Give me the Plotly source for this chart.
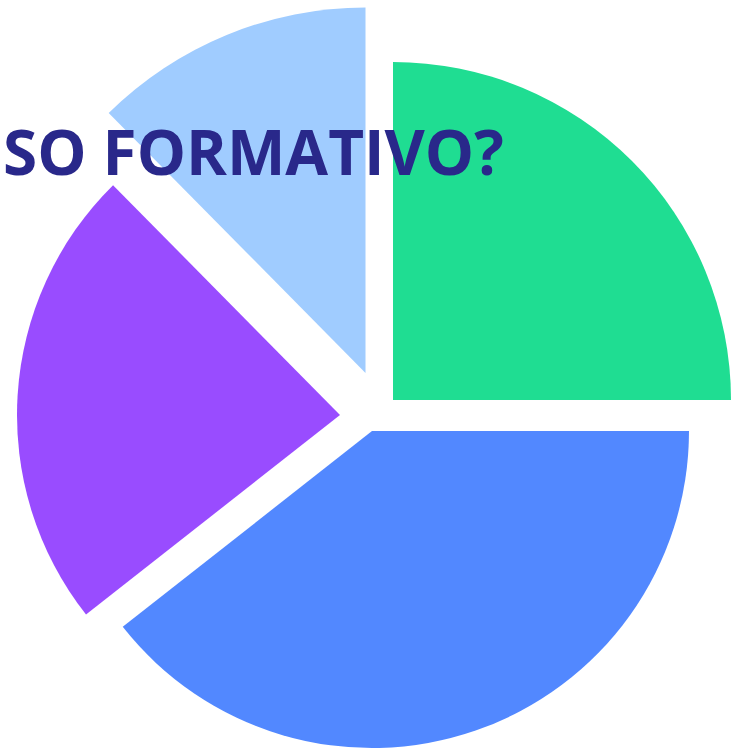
import plotly.graph_objects as go

W, H = 731, 749

labels = ["Verde", "Azul", "Morado", "Celeste"]
values = [25, 39.4, 23.2, 12.4]
colors = ["#1FDD92", "#5288FF", "#994CFF", "#A0CCFF"]
title_text = "SO FORMATIVO?"

# per-slice placement (center px, radius px) to reproduce exploded look
centers = [(393, 400), (372, 431), (340, 415), (365.5, 373)]
radii = [338, 317, 323, 365.5]

fig = go.Figure()
for i, (lab, col) in enumerate(zip(labels, colors)):
    cx, cy = centers[i]
    r = radii[i]
    x0 = max(0, (cx - r) / W)
    x1 = min(1, (cx + r) / W)
    y0 = max(0, 1 - (cy + r) / H)
    y1 = min(1, 1 - (cy - r) / H)
    slice_colors = ["rgba(0,0,0,0)"] * len(labels)
    slice_colors[i] = col
    fig.add_trace(go.Pie(
        labels=labels,
        values=values,
        sort=False,
        direction="clockwise",
        rotation=0,
        marker=dict(colors=slice_colors, line=dict(width=0)),
        textinfo="none",
        hoverinfo="skip",
        showlegend=False,
        domain=dict(x=[x0, x1], y=[y0, y1]),
    ))

fig.add_annotation(
    text=title_text,
    x=1 / W, y=1 - 151 / H,
    xref="paper", yref="paper",
    xanchor="left", yanchor="middle",
    showarrow=False,
    font=dict(family="Open Sans", size=62, color="#29288A", weight="bold"),
)

fig.update_layout(
    width=W, height=H,
    margin=dict(l=0, r=0, t=0, b=0),
    paper_bgcolor="white",
    plot_bgcolor="white",
    showlegend=False,
)

fig.write_html("out.html", config={"displayModeBar": False},
               post_script="document.body.style.margin='0';")
